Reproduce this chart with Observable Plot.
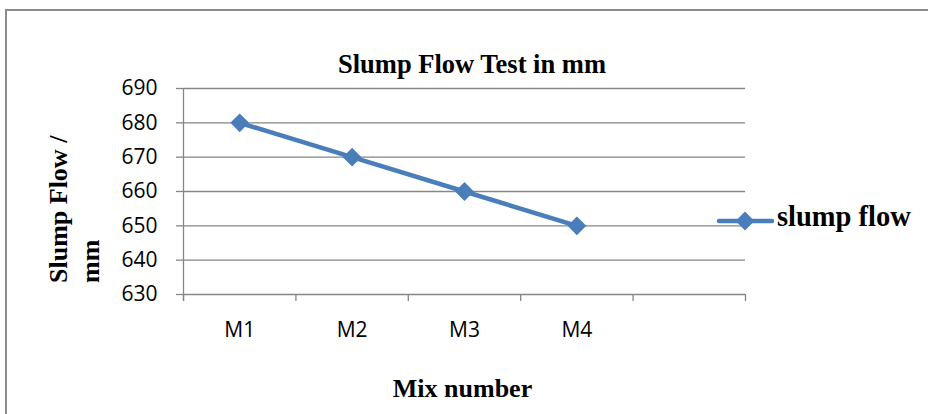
<!DOCTYPE html>
<html>
<head>
<meta charset="utf-8">
<script src="https://cdn.jsdelivr.net/npm/d3@7"></script>
<script src="https://cdn.jsdelivr.net/npm/@observablehq/plot@0.6"></script>
<style>
  html, body { margin: 0; padding: 0; background: #fff; }
  #wrap { position: relative; width: 928px; height: 414px; overflow: hidden; }
  #border { position: absolute; left: 5px; top: 9px; width: 1000px; height: 1000px; border-left: 2px solid #8c8c8c; border-top: 2px solid #8c8c8c; box-sizing: border-box; }
  .serif { font-family: "Liberation Serif", "Times New Roman", serif; font-weight: bold; color: #000; position: absolute; white-space: nowrap; line-height: normal; }
  #title { left: 0; width: 944px; top: 49px; text-align: center; font-size: 26.5px; }
  #xlabel { left: 0; width: 925px; top: 374px; text-align: center; font-size: 26px; }
  #ylabel { left: 43px; top: 283px; transform-origin: 0 0; transform: rotate(-90deg); font-size: 26px; line-height: 32px; }
  #legendText { left: 777px; top: 201px; font-size: 28.5px; }
  #legendSwatch { position: absolute; left: 714px; top: 203px; }
  #chart { position: absolute; left: 0; top: 0; }
  #chart svg text { font-size: 21px !important; font-family: "Open Sans", sans-serif !important; }
</style>
</head>
<body>
<div id="wrap">
  <div id="border"></div>
  <div id="chart"></div>
  <div id="title" class="serif">Slump Flow Test in mm</div>
  <div id="ylabel" class="serif">Slump Flow /<br>mm</div>
  <div id="xlabel" class="serif">Mix number</div>
  <div id="legendSwatch"></div>
  <div id="legendText" class="serif"></div>
</div>
<script>
const categories = ["M1", "M2", "M3", "M4"];
const slumpFlow = [680, 670, 660, 650];
const yTicks = [630, 640, 650, 660, 670, 680, 690];
const seriesName = "slump flow";

const lineColor = "#4a7ebb";
const gridColor = "#868686";
const slots = categories.length + 1; // one empty category slot at the right, as in the original
const data = categories.map((c, i) => ({cat: c, pos: i + 0.5, value: slumpFlow[i]}));

const chart = Plot.plot({
  width: 928,
  height: 414,
  marginLeft: 183,
  marginRight: 183,
  marginTop: 88,
  marginBottom: 120,
  style: {fontFamily: "'Open Sans', sans-serif", fontSize: "21px", color: "#000", background: "transparent", overflow: "visible"},
  x: {domain: [0, slots], axis: null},
  y: {domain: [630, 690], axis: null},
  marks: [
    Plot.gridY(yTicks, {stroke: gridColor, strokeOpacity: 1, strokeWidth: 1.3}),
    Plot.ruleX([0], {stroke: gridColor, strokeWidth: 1.3, insetBottom: -7}),
    Plot.axisY(yTicks, {tickSize: 7, tickPadding: 19, stroke: gridColor, strokeWidth: 1.3, fill: "#000", label: null}),
    Plot.axisX(d3.range(0, slots + 1), {tickSize: 7, tickFormat: () => "", stroke: gridColor, strokeWidth: 1.3, label: null}),
    Plot.axisX(data.map(d => d.pos), {tickSize: 0, tickPadding: 28, tickFormat: v => categories[v - 0.5], fill: "#000", label: null}),
    Plot.line(data, {x: "pos", y: "value", stroke: lineColor, strokeWidth: 4.5}),
    Plot.dot(data, {x: "pos", y: "value", symbol: "square", r: 7.5, rotate: 45, fill: lineColor, stroke: "none"})
  ]
});
document.getElementById("chart").appendChild(chart);

// Legend
const sw = d3.create("svg").attr("width", 62).attr("height", 36);
sw.append("line").attr("x1", 5).attr("x2", 58).attr("y1", 18).attr("y2", 18).attr("stroke", lineColor).attr("stroke-width", 4.5).attr("stroke-linecap", "round");
sw.append("path").attr("d", d3.symbol(d3.symbolSquare, Math.PI * 7.5 * 7.5)()).attr("transform", "translate(31,18) rotate(45)").attr("fill", lineColor);
document.getElementById("legendSwatch").appendChild(sw.node());
document.getElementById("legendText").textContent = seriesName;
</script>
</body>
</html>
